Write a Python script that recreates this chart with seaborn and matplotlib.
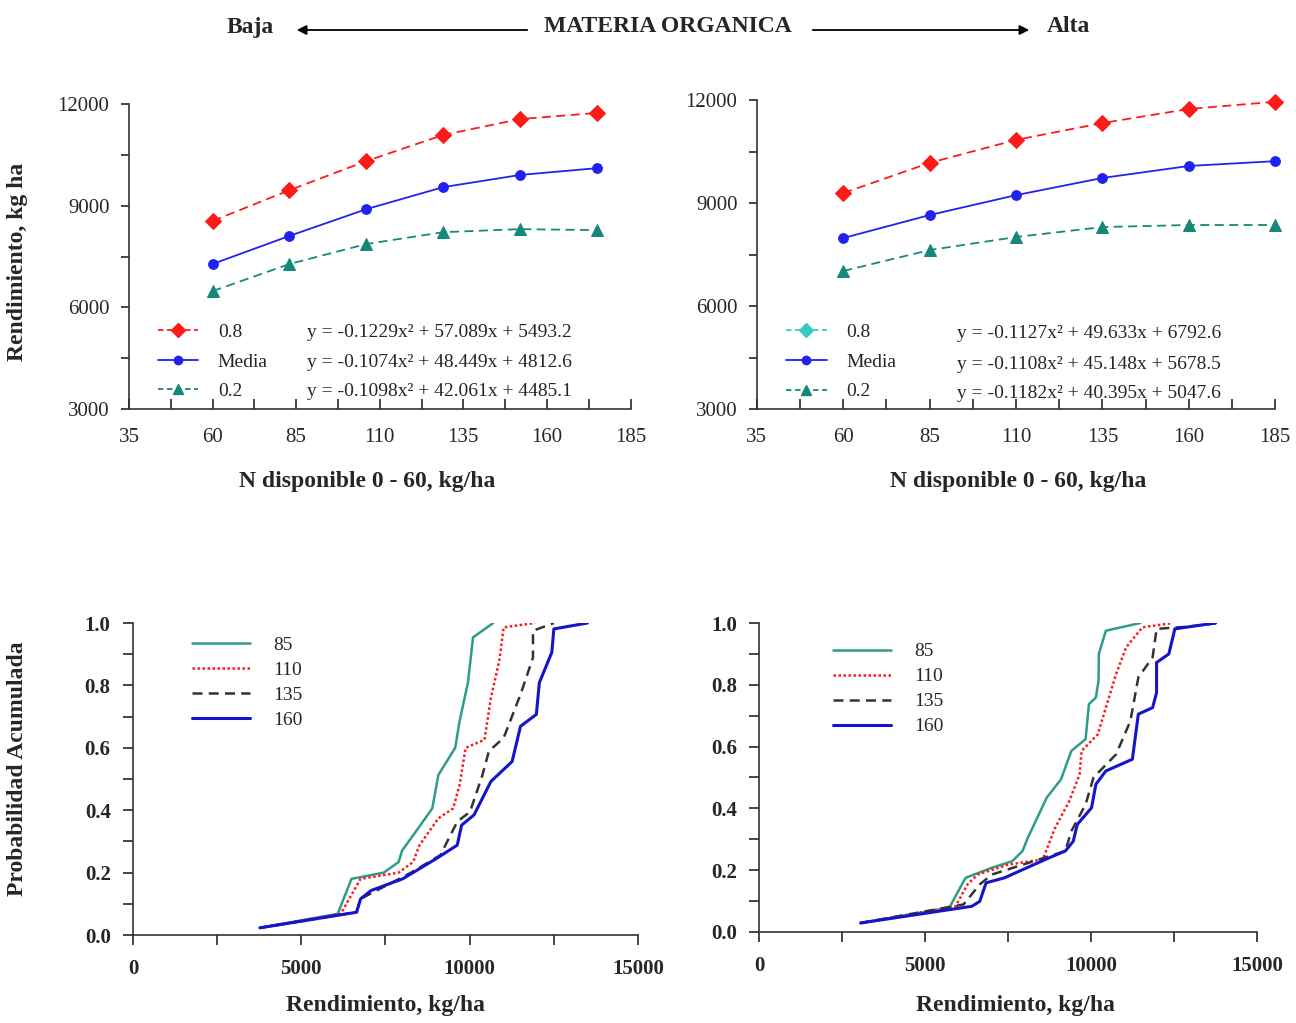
import pandas as pd
import matplotlib
matplotlib.use('Agg')
from matplotlib import pyplot as plt
from matplotlib.lines import Line2D
from matplotlib.ticker import MultipleLocator, FormatStrFormatter
import seaborn as sns

sns.set_style('ticks')
plt.rcParams['font.family'] = ['Liberation Serif', 'DejaVu Serif']

# ---------------- datos: rendimiento vs N disponible ----------------
n_baja = [60, 83, 106, 129, 152, 175]
p08_baja = [8550, 9460, 10320, 11090, 11560, 11740]
media_baja = [7280, 8110, 8900, 9550, 9910, 10110]
p02_baja = [6480, 7280, 7870, 8220, 8310, 8280]
eq_baja = ['y = -0.1229x\u00b2 + 57.089x + 5493.2',
           'y = -0.1074x\u00b2 + 48.449x + 4812.6',
           'y = -0.1098x\u00b2 + 42.061x + 4485.1']

n_alta = [60, 85, 110, 135, 160, 185]
p08_alta = [9290, 10170, 10840, 11330, 11740, 11950]
media_alta = [7980, 8650, 9230, 9730, 10080, 10220]
p02_alta = [7020, 7630, 8010, 8300, 8360, 8360]
eq_alta = ['y = -0.1127x\u00b2 + 49.633x + 6792.6',
           'y = -0.1108x\u00b2 + 45.148x + 5678.5',
           'y = -0.1182x\u00b2 + 40.395x + 5047.6']

series_top = ['0.8', 'Media', '0.2']
ticks_n = [35, 60, 85, 110, 135, 160, 185]

# ---------------- datos: probabilidad acumulada ----------------
niveles = ['85', '110', '135', '160']

# MO baja
r85_baja = [3770, 6080, 6490, 7450, 7890, 7990, 8390, 8890, 9070, 9570, 9700, 9950, 10100, 10700]
p85_baja = [0.023, 0.068, 0.18, 0.20, 0.234, 0.27, 0.33, 0.406, 0.513, 0.60, 0.685, 0.81, 0.954, 1.0]
r110_baja = [3770, 6170, 6760, 7890, 8320, 8510, 9070, 9510, 9700, 9880, 10440, 10630, 10880, 11010, 11940]
p110_baja = [0.023, 0.068, 0.18, 0.20, 0.234, 0.288, 0.374, 0.406, 0.481, 0.60, 0.626, 0.76, 0.879, 0.986, 1.0]
r135_baja = [3770, 6640, 6760, 8260, 9130, 9630, 10010, 10380, 10570, 11010, 11510, 11880, 11880, 12500]
p135_baja = [0.023, 0.073, 0.116, 0.20, 0.256, 0.363, 0.395, 0.513, 0.589, 0.632, 0.771, 0.889, 0.975, 1.0]
r160_baja = [3770, 6640, 6760, 7080, 8010, 9010, 9630, 9760, 10130, 10630, 11260, 11510, 11980, 12070, 12440, 12500, 13500]
p160_baja = [0.023, 0.073, 0.116, 0.143, 0.18, 0.245, 0.288, 0.352, 0.385, 0.492, 0.556, 0.669, 0.707, 0.809, 0.906, 0.981, 1.0]

# MO alta
r85_alta = [3050, 5720, 6210, 7010, 7620, 7930, 8090, 8660, 9090, 9400, 9830, 9930, 10140, 10220, 10230, 10440, 11480]
p85_alta = [0.029, 0.078, 0.175, 0.208, 0.229, 0.262, 0.305, 0.435, 0.494, 0.586, 0.624, 0.737, 0.759, 0.813, 0.90, 0.975, 1.0]
r110_alta = [3050, 5910, 6270, 6580, 7500, 8540, 8910, 9340, 9650, 9710, 10200, 10440, 10750, 11050, 11540, 12460]
p110_alta = [0.029, 0.083, 0.154, 0.186, 0.218, 0.235, 0.337, 0.424, 0.51, 0.586, 0.64, 0.726, 0.835, 0.921, 0.986, 1.0]
r135_alta = [3050, 6150, 6640, 7010, 8730, 9220, 9400, 9830, 10070, 10750, 11180, 11420, 11850, 11970, 12890, 13750]
p135_alta = [0.029, 0.089, 0.154, 0.186, 0.245, 0.262, 0.326, 0.413, 0.50, 0.575, 0.683, 0.824, 0.889, 0.981, 0.988, 0.999]
r160_alta = [3050, 6400, 6640, 6830, 7380, 8730, 9220, 9460, 9580, 10010, 10140, 10440, 11240, 11420, 11850,
             11970, 11970, 12340, 12520, 13750]
p160_alta = [0.029, 0.083, 0.099, 0.159, 0.175, 0.24, 0.262, 0.294, 0.348, 0.402, 0.478, 0.521, 0.559, 0.705,
             0.726, 0.775, 0.872, 0.90, 0.981, 1.0]

# ---------------- estilos ----------------
c_rojo = '#ff1a1a'
c_azul = '#2222ee'
c_teal = '#17877a'
c_verde = '#2f9c8a'
c_negro = '#333333'
c_azul2 = '#1414cc'

fig = plt.figure(figsize=(12.96, 10.23), dpi=100)

ax1 = fig.add_axes([0.0995, 0.6002, 0.387, 0.298])
ax2 = fig.add_axes([0.584, 0.6002, 0.400, 0.302])
ax3 = fig.add_axes([0.1026, 0.086, 0.3897, 0.305])
ax4 = fig.add_axes([0.586, 0.089, 0.384, 0.302])


def panel_superior(ax, n, p08, media, p02, color_ley08):
    sns.lineplot(x=n, y=p08, ax=ax, color=c_rojo, linestyle=(0, (5, 3)), lw=1.3,
                 marker='D', markersize=8, markeredgecolor=c_rojo, clip_on=False)
    sns.lineplot(x=n, y=media, ax=ax, color=c_azul, linestyle='-', lw=1.3,
                 marker='o', markersize=7, markeredgecolor=c_azul, clip_on=False)
    sns.lineplot(x=n, y=p02, ax=ax, color=c_teal, linestyle=(0, (5, 3)), lw=1.3,
                 marker='^', markersize=8, markeredgecolor=c_teal, clip_on=False)
    ax.set_xlim(35, 185)
    ax.set_ylim(3000, 12000)
    ax.set_xticks(ticks_n)
    ax.set_xticks([t + 12.5 for t in ticks_n[:-1]], minor=True)
    ax.yaxis.set_major_locator(MultipleLocator(3000))
    ax.yaxis.set_minor_locator(MultipleLocator(1500))
    ax.tick_params(axis='x', which='both', direction='in', length=7, width=1.2, pad=14, labelsize=15)
    ax.tick_params(axis='y', which='both', direction='out', length=6, width=1.2, pad=8, labelsize=15)
    for s in ['top', 'right']:
        ax.spines[s].set_visible(False)
    for s in ['left', 'bottom']:
        ax.spines[s].set_color('#333333')
        ax.spines[s].set_linewidth(1.2)
    handles = [
        Line2D([], [], color=color_ley08, linestyle=(0, (3, 2)), lw=1.3, marker='D', markersize=7),
        Line2D([], [], color=c_azul, linestyle='-', lw=1.3, marker='o', markersize=6),
        Line2D([], [], color=c_teal, linestyle=(0, (3, 2)), lw=1.3, marker='^', markersize=7),
    ]
    ax.legend(handles, series_top, loc='lower left', bbox_to_anchor=(0.03, -0.016), frameon=False,
              fontsize=14, handlelength=2.1, handletextpad=1.0, labelspacing=0.62, borderpad=0.2)


panel_superior(ax1, n_baja, p08_baja, media_baja, p02_baja, c_rojo)
panel_superior(ax2, n_alta, p08_alta, media_alta, p02_alta, '#3cc8c0')

for i, eq in enumerate(eq_baja):
    ax1.text(0.355, [0.252, 0.153, 0.058][i], eq, transform=ax1.transAxes,
             fontsize=14, va='center', ha='left')
for i, eq in enumerate(eq_alta):
    ax2.text(0.386, [0.245, 0.144, 0.05][i], eq, transform=ax2.transAxes,
             fontsize=14, va='center', ha='left')


def panel_inferior(ax, curvas, anchor):
    estilos = [
        dict(color=c_verde, linestyle='-', lw=1.8),
        dict(color=c_rojo, linestyle=(0, (1, 1)), lw=1.8),
        dict(color=c_negro, linestyle=(0, (4, 2.5)), lw=1.8),
        dict(color=c_azul2, linestyle='-', lw=2.2),
    ]
    handles = []
    for (r, p), est in zip(curvas, estilos):
        sns.lineplot(x=r, y=p, ax=ax, sort=False, estimator=None, **est)
        handles.append(Line2D([], [], **est))
    ax.set_xlim(0, 15000)
    ax.set_ylim(0, 1.0)
    ax.xaxis.set_major_locator(MultipleLocator(5000))
    ax.xaxis.set_minor_locator(MultipleLocator(2500))
    ax.yaxis.set_major_locator(MultipleLocator(0.2))
    ax.yaxis.set_minor_locator(MultipleLocator(0.1))
    ax.yaxis.set_major_formatter(FormatStrFormatter('%.1f'))
    ax.tick_params(axis='both', which='both', direction='out', length=7, width=1.2, labelsize=15)
    ax.tick_params(axis='x', pad=10)
    ax.tick_params(axis='y', pad=9)
    for lab in ax.get_xticklabels() + ax.get_yticklabels():
        lab.set_fontweight('bold')
    for s in ['top', 'right']:
        ax.spines[s].set_visible(False)
    for s in ['left', 'bottom']:
        ax.spines[s].set_color('#333333')
        ax.spines[s].set_linewidth(1.2)
    ax.legend(handles, niveles, loc='upper left', bbox_to_anchor=anchor, frameon=False,
              fontsize=14, handlelength=3.0, handletextpad=1.2, labelspacing=0.38, borderpad=0.2)


panel_inferior(ax3, [(r85_baja, p85_baja), (r110_baja, p110_baja), (r135_baja, p135_baja),
                     (r160_baja, p160_baja)], (0.09, 1.0))
panel_inferior(ax4, [(r85_alta, p85_alta), (r110_alta, p110_alta), (r135_alta, p135_alta),
                     (r160_alta, p160_alta)], (0.12, 0.98))

# ---------------- textos ----------------
negrita = dict(fontweight='bold', fontsize=17)
fig.text(367 / 1296, 1 - 481 / 1023, 'N disponible 0 - 60, kg/ha', ha='center', va='center', **negrita)
fig.text(1018 / 1296, 1 - 481 / 1023, 'N disponible 0 - 60, kg/ha', ha='center', va='center', **negrita)
fig.text(385 / 1296, 1 - 1006 / 1023, 'Rendimiento, kg/ha', ha='center', va='center', **negrita)
fig.text(1016 / 1296, 1 - 1006 / 1023, 'Rendimiento, kg/ha', ha='center', va='center', **negrita)
fig.text(18 / 1296, 1 - 262 / 1023, 'Rendimiento, kg ha', rotation=90, ha='center', va='center', **negrita)
fig.text(18 / 1296, 1 - 769 / 1023, 'Probabilidad Acumulada', rotation=90, ha='center', va='center', **negrita)

fig.text(250 / 1296, 1 - 27 / 1023, 'Baja', ha='center', va='center', **negrita)
fig.text(668 / 1296, 1 - 27 / 1023, 'MATERIA ORGANICA', ha='center', va='center', **negrita)
fig.text(1068 / 1296, 1 - 27 / 1023, 'Alta', ha='center', va='center', **negrita)
ax1.annotate('', xy=(294 / 1296, 1 - 30 / 1023), xytext=(530 / 1296, 1 - 30 / 1023),
             xycoords='figure fraction', textcoords='figure fraction', annotation_clip=False,
             arrowprops=dict(arrowstyle='-|>', lw=1.3, color='black', mutation_scale=14))
ax1.annotate('', xy=(1032 / 1296, 1 - 30 / 1023), xytext=(810 / 1296, 1 - 30 / 1023),
             xycoords='figure fraction', textcoords='figure fraction', annotation_clip=False,
             arrowprops=dict(arrowstyle='-|>', lw=1.3, color='black', mutation_scale=14))

plt.savefig('out.png', dpi=100)
